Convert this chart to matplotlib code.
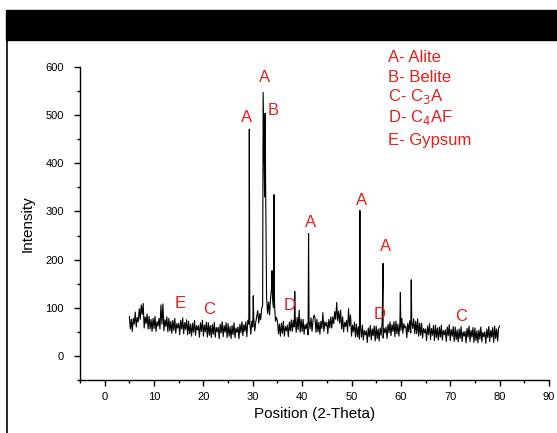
import numpy as np
import matplotlib.pyplot as plt
from matplotlib.patches import Rectangle
from matplotlib.lines import Line2D

plt.rcParams['font.family'] = ['Liberation Sans', 'DejaVu Sans']

# background trace, read every 0.2 deg from 5 to 80 (one row per degree)
bg_start = 5.0
bg_step = 0.2
background = [
    82, 56, 76, 51, 78,    # 5
    66, 91, 60, 80, 71,    # 6
    98, 76, 106, 86, 109,  # 7
    58, 81, 67, 87, 56,    # 8
    82, 56, 76, 51, 78,    # 9
    57, 82, 51, 71, 62,    # 10
    78, 56, 106, 66, 108,  # 11
    52, 75, 61, 81, 50,    # 12
    78, 52, 72, 47, 74,    # 13
    53, 78, 47, 67, 58,    # 14
    68, 44, 74, 56, 79,    # 15
    46, 69, 55, 75, 44,    # 16
    72, 46, 66, 41, 68,    # 17
    49, 74, 43, 63, 54,    # 18
    63, 39, 69, 51, 74,    # 19
    41, 64, 50, 70, 39,    # 20
    69, 43, 63, 38, 65,    # 21
    45, 70, 39, 59, 50,    # 22
    60, 36, 66, 48, 71,    # 23
    40, 63, 49, 69, 38,    # 24
    67, 41, 61, 36, 63,    # 25
    44, 69, 38, 58, 49,    # 26
    60, 36, 66, 48, 71,    # 27
    42, 65, 51, 71, 40,    # 28
    74, 66, 70, 45, 72,    # 29
    60, 78, 52, 70, 82,    # 30
    94, 68, 88, 75, 98,    # 31
    105, 470, 330, 360, 120,  # 32
    88, 112, 85, 120, 140, # 33
    118, 100, 110, 72, 80, # 34
    72, 46, 66, 41, 68,    # 35
    47, 72, 41, 61, 52,    # 36
    64, 40, 70, 52, 75,    # 37
    51, 74, 60, 80, 49,    # 38
    80, 54, 95, 49, 76,    # 39
    51, 76, 45, 65, 56,    # 40
    68, 44, 74, 56, 79,    # 41
    51, 74, 85, 80, 49,    # 42
    76, 50, 70, 45, 72,    # 43
    57, 90, 51, 71, 62,    # 44
    70, 46, 76, 58, 81,    # 45
    58, 81, 67, 92, 76,    # 46
    111, 73, 93, 68, 95,   # 47
    56, 81, 50, 70, 61,    # 48
    74, 50, 98, 62, 85,    # 49
    41, 64, 50, 70, 39,    # 50
    66, 40, 60, 35, 62,    # 51
    39, 64, 33, 53, 44,    # 52
    52, 28, 58, 40, 63,    # 53
    33, 56, 42, 62, 31,    # 54
    62, 36, 56, 31, 58,    # 55
    43, 68, 37, 57, 48,    # 56
    60, 36, 66, 48, 71,    # 57
    42, 65, 51, 71, 40,    # 58
    72, 46, 66, 41, 68,    # 59
    53, 78, 47, 67, 58,    # 60
    62, 38, 68, 50, 73,    # 61
    48, 71, 57, 77, 46,    # 62
    72, 46, 77, 41, 68,    # 63
    43, 68, 37, 57, 48,    # 64
    56, 32, 62, 44, 67,    # 65
    34, 57, 43, 63, 32,    # 66
    64, 38, 58, 33, 60,    # 67
    39, 64, 33, 53, 44,    # 68
    54, 30, 60, 42, 65,    # 69
    32, 55, 41, 61, 30,    # 70
    60, 34, 54, 29, 56,    # 71
    36, 61, 30, 50, 41,    # 72
    51, 27, 57, 39, 62,    # 73
    30, 53, 39, 59, 28,    # 74
    58, 32, 52, 27, 54,    # 75
    35, 60, 29, 49, 40,    # 76
    50, 26, 56, 38, 61,    # 77
    30, 53, 39, 59, 28,    # 78
    62, 36, 56, 31, 58,    # 79
    62,                    # 80
]

# sharp reflections
peak_pos = [29.3, 30.1, 32.1, 32.5, 33.9, 34.3, 38.5, 41.3, 51.7, 56.4, 59.9, 62.1]
peak_int = [471, 125, 547, 504, 177, 335, 134, 254, 302, 192, 132, 158]

# phase labels on the pattern
lab_text = ['A', 'A', 'B', 'A', 'A', 'A', 'D', 'D', 'E', 'C', 'C']
lab_x = [28.8, 32.4, 34.1, 41.8, 52.1, 56.8, 37.5, 55.7, 15.2, 21.1, 72.2]
lab_y = [496, 579, 510, 277, 323, 227, 104, 87, 108, 96, 81]

key_lines = ['A- Alite', 'B- Belite', 'C- C$_3$A', 'D- C$_4$AF', 'E- Gypsum']
key_y = [57, 77, 97, 118, 141]

red = '#e0201c'

bg_x = bg_start + bg_step * np.arange(len(background))
x = np.concatenate([bg_x, peak_pos])
y = np.concatenate([background, peak_int])
order = np.argsort(x)
x, y = x[order], y[order]

fig = plt.figure(figsize=(5.57, 4.33), dpi=100)
ax = fig.add_axes([0.1436, 0.1224, 0.842, 0.7229])

ax.plot(x, y, color='k', lw=0.8)

for t, xx, yy in zip(lab_text, lab_x, lab_y):
    ax.text(xx, yy, t, color=red, fontsize=12, ha='center', va='center')

for t, yy in zip(key_lines, key_y):
    fig.text(388 / 557, 1 - yy / 433, t, color=red, fontsize=12, ha='left', va='center')

ax.set_xlim(-5, 90)
ax.set_ylim(-50, 600)
ax.set_xticks(np.arange(0, 91, 10))
ax.set_xticks(np.arange(-5, 91, 5), minor=True)
ax.set_yticks(np.arange(0, 601, 100))
ax.set_yticks(np.arange(-50, 601, 50), minor=True)
ax.spines['top'].set_visible(False)
ax.spines['right'].set_visible(False)
for s in ['left', 'bottom']:
    ax.spines[s].set_linewidth(1.0)
ax.tick_params(which='major', direction='out', length=4.5, width=1.0, labelsize=8)
ax.tick_params(axis='y', which='major', pad=7)
ax.tick_params(axis='x', which='major', pad=4)
ax.tick_params(which='minor', direction='out', length=2.5, width=1.0)
ax.set_xlabel('Position (2-Theta)', fontsize=11, labelpad=4)
ax.set_ylabel('Intensity', fontsize=11, labelpad=8)

# black header bar and left frame line from the source page
fig.patches.append(Rectangle((6 / 557, 1 - 40 / 433), 1, 30 / 433, transform=fig.transFigure,
                             color='k', zorder=0))
fig.lines.append(Line2D([6.5 / 557, 6.5 / 557], [0, 1 - 40 / 433], transform=fig.transFigure,
                        color='k', lw=1.2))

fig.savefig('out.png', dpi=100)
